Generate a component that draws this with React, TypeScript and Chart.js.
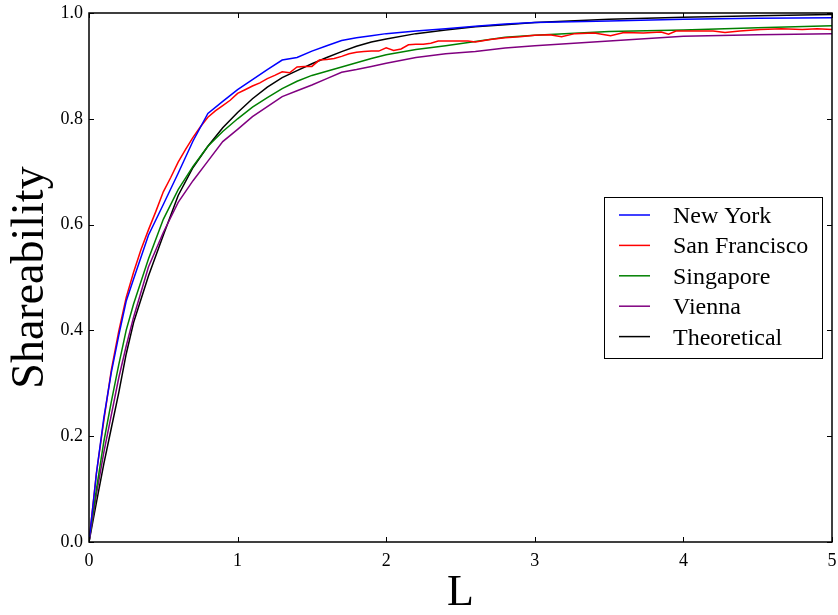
import React, { useEffect, useRef } from "react";
import { Chart, registerables } from "chart.js";

Chart.register(...registerables);

// ---------------- data ----------------
const L_CITY = [
  0, 0.05, 0.1, 0.15, 0.2, 0.25, 0.3, 0.4, 0.5, 0.6, 0.7, 0.8, 0.9, 1.0, 1.1, 1.2, 1.3,
  1.4, 1.5, 1.6, 1.7, 1.8, 1.9, 2.0, 2.2, 2.4, 2.6, 2.8, 3.0, 3.5, 4.0, 4.5, 5.0,
];

const NEW_YORK = [
  0, 0.13, 0.235, 0.32, 0.39, 0.455, 0.497, 0.58, 0.638, 0.697, 0.758, 0.81, 0.833, 0.855,
  0.874, 0.893, 0.911, 0.916, 0.928, 0.938, 0.948, 0.953, 0.957, 0.961, 0.966, 0.97, 0.975,
  0.979, 0.982, 0.985, 0.988, 0.99, 0.991,
];

const SINGAPORE = [
  0, 0.1, 0.19, 0.265, 0.335, 0.4, 0.45, 0.535, 0.61, 0.666, 0.71, 0.748, 0.776, 0.8, 0.822,
  0.84, 0.857, 0.871, 0.882, 0.89, 0.898, 0.906, 0.914, 0.921, 0.931, 0.938, 0.946, 0.954,
  0.958, 0.965, 0.968, 0.972, 0.976,
];

const VIENNA = [
  0, 0.09, 0.17, 0.24, 0.31, 0.37, 0.425, 0.52, 0.585, 0.642, 0.683, 0.72, 0.757, 0.78,
  0.804, 0.823, 0.842, 0.853, 0.864, 0.876, 0.888, 0.893, 0.899, 0.905, 0.916, 0.923, 0.927,
  0.934, 0.938, 0.947, 0.956, 0.959, 0.961,
];

const THEORETICAL = [
  0, 0.075, 0.148, 0.215, 0.282, 0.355, 0.415, 0.503, 0.58, 0.655, 0.708, 0.748, 0.783,
  0.812, 0.838, 0.86, 0.878, 0.891, 0.904, 0.916, 0.927, 0.937, 0.945, 0.951, 0.961, 0.968,
  0.974, 0.978, 0.982, 0.988, 0.992, 0.995, 0.997,
];

const L_SF = [
  0, 0.05, 0.1, 0.15, 0.2, 0.25, 0.3, 0.35, 0.4, 0.45, 0.5, 0.55, 0.6, 0.65, 0.7, 0.75, 0.8,
  0.85, 0.9, 0.95, 1.0, 1.05, 1.1, 1.15, 1.2, 1.25, 1.3, 1.35, 1.4, 1.45, 1.5, 1.55, 1.6,
  1.65, 1.7, 1.75, 1.8, 1.85, 1.9, 1.95, 2.0, 2.05, 2.1, 2.15, 2.2, 2.25, 2.3, 2.35, 2.45,
  2.55, 2.6, 2.7, 2.8, 2.9, 3.0, 3.1, 3.18, 3.27, 3.4, 3.51, 3.6, 3.73, 3.85, 3.9, 3.95,
  4.1, 4.2, 4.28, 4.38, 4.52, 4.66, 4.8, 4.9, 5.0,
];

const SAN_FRANCISCO = [
  0, 0.13, 0.23, 0.325, 0.398, 0.462, 0.51, 0.553, 0.59, 0.625, 0.662, 0.689, 0.718, 0.742,
  0.765, 0.785, 0.803, 0.815, 0.825, 0.835, 0.848, 0.855, 0.862, 0.868, 0.876, 0.882, 0.889,
  0.887, 0.898, 0.899, 0.899, 0.911, 0.912, 0.914, 0.918, 0.923, 0.926, 0.927, 0.928, 0.928,
  0.934, 0.929, 0.932, 0.94, 0.941, 0.941, 0.943, 0.947, 0.947, 0.947, 0.945, 0.95, 0.953,
  0.955, 0.958, 0.959, 0.955, 0.961, 0.962, 0.957, 0.963, 0.962, 0.964, 0.96, 0.966, 0.966,
  0.966, 0.963, 0.966, 0.969, 0.97, 0.969, 0.97, 0.969,
];

const X_TICKS = [0, 1, 2, 3, 4, 5];
const Y_TICKS = [0, 0.2, 0.4, 0.6, 0.8, 1.0];

const SERIES = [
  { label: "New York", xs: L_CITY, ys: NEW_YORK, color: "#0000ff" },
  { label: "San Francisco", xs: L_SF, ys: SAN_FRANCISCO, color: "#ff0000" },
  { label: "Singapore", xs: L_CITY, ys: SINGAPORE, color: "#008000" },
  { label: "Vienna", xs: L_CITY, ys: VIENNA, color: "#800080" },
  { label: "Theoretical", xs: L_CITY, ys: THEORETICAL, color: "#000000" },
];

const X_TITLE = "L";
const Y_TITLE = "Shareability";

const SERIF = '"Liberation Serif", "Times New Roman", serif';

export default function App() {
  const ref = useRef<HTMLCanvasElement>(null);

  useEffect(() => {
    if (!ref.current) return;

    const framePlugin = {
      id: "frame",
      afterDraw(chart: any) {
        const { ctx, chartArea: a, scales } = chart;
        ctx.save();
        ctx.strokeStyle = "#000";
        ctx.lineWidth = 1;
        const seg = (x1: number, y1: number, x2: number, y2: number) => {
          ctx.beginPath();
          ctx.moveTo(x1, y1);
          ctx.lineTo(x2, y2);
          ctx.stroke();
        };
        const tl = 5;
        X_TICKS.forEach((v) => {
          const px = Math.round(scales.x.getPixelForValue(v)) + 0.5;
          seg(px, a.bottom, px, a.bottom - tl);
          seg(px, a.top, px, a.top + tl);
        });
        Y_TICKS.forEach((v) => {
          const py = Math.round(scales.y.getPixelForValue(v)) + 0.5;
          seg(a.left, py, a.left + tl, py);
          seg(a.right, py, a.right - tl, py);
        });
        ctx.lineWidth = 1.5;
        ctx.strokeRect(a.left, a.top, a.right - a.left, a.bottom - a.top);

        // axis titles
        ctx.fillStyle = "#000";
        ctx.textAlign = "center";
        ctx.textBaseline = "alphabetic";
        ctx.font = `46px ${SERIF}`;
        ctx.save();
        ctx.translate(43, (a.top + a.bottom) / 2);
        ctx.rotate(-Math.PI / 2);
        ctx.fillText(Y_TITLE, 0, 0);
        ctx.restore();
        ctx.font = `44px ${SERIF}`;
        ctx.fillText(X_TITLE, (a.left + a.right) / 2, 605);

        // legend
        const bx = 604, by = 197, bw = 218, bh = 161;
        ctx.fillStyle = "#fff";
        ctx.fillRect(bx, by, bw, bh);
        ctx.lineWidth = 1;
        ctx.strokeStyle = "#000";
        ctx.strokeRect(bx + 0.5, by + 0.5, bw, bh);
        ctx.font = `24px ${SERIF}`;
        ctx.textAlign = "left";
        chart.data.datasets.forEach((ds: any, i: number) => {
          const y = 215 + i * 30.4;
          ctx.strokeStyle = ds.borderColor;
          ctx.lineWidth = 1.5;
          seg(619, y, 650, y);
          ctx.fillStyle = "#000";
          ctx.fillText(ds.label, 673, y + 8);
        });
        ctx.restore();
      },
    };

    const chart = new Chart(ref.current, {
      type: "line",
      data: {
        datasets: SERIES.map((s) => ({
          label: s.label,
          data: s.xs.map((x, i) => ({ x, y: s.ys[i] })),
          borderColor: s.color,
          backgroundColor: s.color,
          borderWidth: 1.5,
          pointRadius: 0,
          tension: 0,
          fill: false,
        })),
      },
      options: {
        animation: false,
        responsive: false,
        devicePixelRatio: 1,
        events: [],
        layout: { padding: { top: 13, right: 6, left: 0, bottom: 0 } },
        plugins: { legend: { display: false }, tooltip: { enabled: false } },
        scales: {
          x: {
            type: "linear",
            min: 0,
            max: 5,
            afterBuildTicks: (s: any) => {
              s.ticks = X_TICKS.map((v) => ({ value: v }));
            },
            afterFit: (s: any) => {
              s.height = 73;
              s.paddingLeft = 0;
              s.paddingRight = 0;
            },
            ticks: {
              color: "#000",
              font: { family: SERIF, size: 18 },
              padding: 8,
              maxRotation: 0,
              callback: (v: any) => String(v),
            },
            grid: { display: false, drawTicks: false },
            border: { display: false },
          },
          y: {
            type: "linear",
            min: 0,
            max: 1,
            afterBuildTicks: (s: any) => {
              s.ticks = Y_TICKS.map((v) => ({ value: v }));
            },
            afterFit: (s: any) => {
              s.width = 89;
              s.paddingTop = 0;
              s.paddingBottom = 0;
            },
            ticks: {
              color: "#000",
              font: { family: SERIF, size: 18 },
              padding: 6,
              callback: (v: any) => Number(v).toFixed(1),
            },
            grid: { display: false, drawTicks: false },
            border: { display: false },
          },
        },
      },
      plugins: [framePlugin],
    } as any);

    return () => chart.destroy();
  }, []);

  return (
    <div style={{ position: "absolute", left: 0, top: 0, width: 838, height: 615, background: "#fff" }}>
      <canvas ref={ref} width={838} height={615} style={{ display: "block" }} />
    </div>
  );
}
